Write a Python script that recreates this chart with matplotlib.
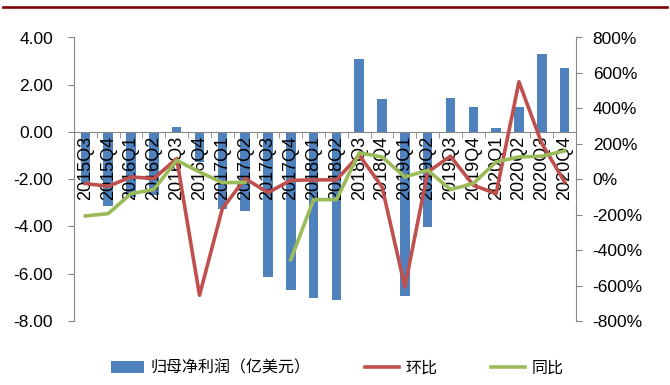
import numpy as np
import matplotlib.pyplot as plt
from matplotlib.lines import Line2D
from matplotlib.ticker import FuncFormatter

plt.rcParams['font.family'] = ['Liberation Sans', 'Noto Sans CJK SC', 'DejaVu Sans']

quarters = ['2015Q3', '2015Q4', '2016Q1', '2016Q2', '2016Q3', '2016Q4',
            '2017Q1', '2017Q2', '2017Q3', '2017Q4', '2018Q1', '2018Q2',
            '2018Q3', '2018Q4', '2019Q1', '2019Q2', '2019Q3', '2019Q4',
            '2020Q1', '2020Q2', '2020Q3', '2020Q4']
# 归母净利润（亿美元）
profit = [-2.20, -3.13, -2.75, -2.65, 0.23, -1.27, -3.24, -3.34, -6.15, -6.69, -7.04,
          -7.10, 3.11, 1.41, -6.95, -4.04, 1.45, 1.07, 0.19, 1.04, 3.31, 2.70]
# 环比 (%)
qoq = [-24, -40, 13, 4, 117, -655, -166, 4, -75, -6, -4,
       -3, 136, -43, -608, 41, 130, -34, -81, 550, 202, -15]
# 同比 (%)，2017Q3 无数据
yoy = [-207, -194, -81, -58, 107, 41, -19, -18, np.nan, -454, -115,
       -115, 149, 126, 13, 51, -58, -24, 98, 126, 130, 160]

gray = '#868686'
x = np.arange(len(quarters))

fig = plt.figure(figsize=(6.7, 3.85), dpi=100)
ax = fig.add_axes([74/670, 1 - 321/385, 502/670, 283.5/385])

bars = ax.bar(x, profit, width=0.42, color='#4F81BD', label='归母净利润（亿美元）', zorder=1)
ax.set_xlim(-0.5, len(quarters) - 0.5)
ax.set_ylim(-8, 4)
ax.set_yticks(np.arange(-8, 4.1, 2))
ax.yaxis.set_major_formatter(FuncFormatter(lambda v, p: f'{v:.2f}'))

# 横轴放在 0 的位置，刻度线在各季度之间
for s in ['top', 'right']:
    ax.spines[s].set_visible(False)
ax.spines['bottom'].set_position(('data', 0))
ax.spines['bottom'].set_color(gray)
ax.spines['left'].set_color(gray)
ax.set_xticks(x)
ax.set_xticklabels(quarters, rotation=90, fontsize=13)
ax.set_xticks(np.arange(-0.5, len(quarters), 1), minor=True)
ax.tick_params(axis='x', which='major', length=0, pad=3)
ax.tick_params(axis='x', which='minor', length=4, color=gray, direction='out')
ax.tick_params(axis='y', length=4, color=gray, labelsize=12.5, pad=11)

ax2 = ax.twinx()
ax2.set_position(ax.get_position())
l1, = ax2.plot(x, qoq, color='#C0504D', lw=2.6, label='环比')
l2, = ax2.plot(x, yoy, color='#9BBB59', lw=2.6, label='同比')
ax2.set_ylim(-800, 800)
ax2.set_yticks(np.arange(-800, 801, 200))
ax2.yaxis.set_major_formatter(FuncFormatter(lambda v, p: f'{v:.0f}%'))
for s in ['top', 'left', 'bottom']:
    ax2.spines[s].set_visible(False)
ax2.spines['right'].set_color(gray)
ax2.tick_params(axis='y', length=4, color=gray, labelsize=12.5, pad=8)

fig.legend([bars, l1, l2], ['归母净利润（亿美元）', '环比', '同比'],
           loc='center', bbox_to_anchor=(337/670, 1 - 368/385), ncol=3, frameon=False,
           prop={'family': ['Noto Sans CJK SC'], 'size': 11.5},
           handlelength=2.1, handletextpad=0.4, columnspacing=3.4)

# 顶部深红色分隔线
fig.add_artist(Line2D([0.005, 0.995], [0.981, 0.981], transform=fig.transFigure,
                      color='#7F0000', lw=1.9))

fig.savefig('out.png', dpi=100)
